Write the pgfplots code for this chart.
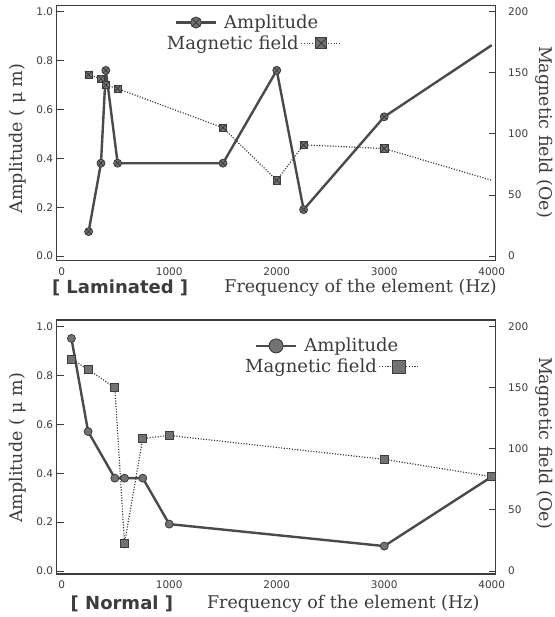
\documentclass[border=0pt]{standalone}
\usepackage{fontspec}
\setmainfont{DejaVu Serif}
\newfontfamily\sansf{DejaVu Sans}
\usepackage{pgfplots}
\pgfplotsset{compat=1.18}
\usetikzlibrary{plotmarks}
\definecolor{ink}{HTML}{3C3C3C}
\definecolor{linec}{HTML}{4A4A4A}
\definecolor{markf}{HTML}{727272}

\pgfdeclareplotmark{boxtimes*}{%
  \pgfpathrectangle{\pgfqpoint{-\pgfplotmarksize}{-\pgfplotmarksize}}{\pgfqpoint{2\pgfplotmarksize}{2\pgfplotmarksize}}%
  \pgfusepathqfillstroke
  \pgfpathmoveto{\pgfqpoint{-\pgfplotmarksize}{-\pgfplotmarksize}}%
  \pgfpathlineto{\pgfqpoint{\pgfplotmarksize}{\pgfplotmarksize}}%
  \pgfpathmoveto{\pgfqpoint{-\pgfplotmarksize}{\pgfplotmarksize}}%
  \pgfpathlineto{\pgfqpoint{\pgfplotmarksize}{-\pgfplotmarksize}}%
  \pgfusepathqstroke
}

\pgfplotsset{
  panel/.style={
    scale only axis, width=439pt,
    xmin=-47, xmax=4037,
    axis line style={ink, line width=1.1pt},
    tick style={ink, line width=0.9pt},
    tick align=inside, major tick length=7pt,
    /pgf/number format/assume math mode=true,
    tick label style={font=\sansf\fontsize{10.5}{12}\selectfont, text=ink},
    legend style={draw=none, fill=none, inner sep=0pt, text=ink,
      font=\fontsize{18}{20}\selectfont, nodes={inner sep=0pt}},
    legend image code/.code={\draw[mark repeat=2,mark phase=2,##1] plot coordinates {(0pt,0pt) (20pt,0pt) (40pt,0pt)};},
  },
  leftpanel/.style={panel,
    xtick={0,1000,2000,3000,4000}, xtick pos=bottom, ytick pos=left,
    xticklabel style={/pgf/number format/1000 sep={}, yshift=-3pt},
    xtick style={/pgfplots/major tick length=0pt},
    extra x ticks={0,4000}, extra x tick labels={},
    extra x tick style={/pgfplots/major tick length=7pt},
    ytick={0,0.2,0.4,0.6,0.8,1.0},
    yticklabel style={/pgf/number format/.cd, fixed, fixed zerofill, precision=1},
    legend style={column sep=7pt},
  },
  rightpanel/.style={panel,
    axis x line=none, axis y line*=right, ytick pos=right,
    ytick={0,50,100,150,200},
    yticklabel style={xshift=9pt},
    legend plot pos=right,
    legend style={column sep=2pt},
  },
  ampline/.style={linec, line width=2.4pt},
  magline/.style={ink, line width=1.2pt, dash pattern=on 1.1pt off 1.6pt},
}

\begin{document}
\begin{tikzpicture}
\path[use as bounding box] (0pt,0pt) rectangle (554pt,-617pt);

% ---------------- Top panel: Laminated ----------------
\begin{axis}[leftpanel, at={(56.7pt,-5.7pt)}, anchor=north west,
  height=255pt, ymin=-0.019, ymax=1.0246,
  legend style={at={(0.2686,0.934)}, anchor=west}]
\addplot[ampline, forget plot] coordinates {
 (250,0.10) (365,0.38) (410,0.76) (520,0.38) (1500,0.38) (2000,0.76) (2250,0.19) (3000,0.57) (4000,0.863)};
\addplot[only marks, mark=otimes*, mark size=4pt, mark options={fill=markf, draw=ink, line width=0.8pt}, forget plot] coordinates {
 (250,0.10) (365,0.38) (410,0.76) (520,0.38) (1500,0.38) (2000,0.76) (2250,0.19) (3000,0.57)};
\addlegendimage{ampline, mark=otimes*, mark size=5.5pt, mark options={fill=markf, draw=ink, line width=0.9pt}}
\addlegendentry{Amplitude}
\end{axis}

\begin{axis}[rightpanel, at={(56.7pt,-5.7pt)}, anchor=north west,
  height=255pt, ymin=-3.8, ymax=204.9,
  legend style={at={(0.650,0.853)}, anchor=east}]
\addplot[magline, forget plot] coordinates {
 (250,148.5) (365,145) (410,140) (520,137) (1500,105) (2000,62) (2250,91) (3000,88) (4000,62)};
\addplot[only marks, mark=boxtimes*, mark size=3.7pt, mark options={solid, fill=markf, draw=ink, line width=0.8pt}, forget plot] coordinates {
 (250,148.5) (365,145) (410,140) (520,137) (1500,105) (2000,62) (2250,91) (3000,88)};
\addlegendimage{magline, mark=boxtimes*, mark size=5.5pt, mark options={solid, fill=markf, draw=ink, line width=0.9pt}}
\addlegendentry{Magnetic field}
\end{axis}

% ---------------- Bottom panel: Normal ----------------
\begin{axis}[leftpanel, at={(56.7pt,-320pt)}, anchor=north west,
  height=254pt, ymin=-0.0123, ymax=1.0274,
  legend style={at={(0.451,0.898)}, anchor=west}]
\addplot[ampline, mark=*, mark size=4pt, mark options={fill=markf, draw=ink, line width=0.8pt}, forget plot] coordinates {
 (90,0.952) (245,0.571) (494,0.38) (584,0.38) (754,0.38) (1000,0.192) (3000,0.102) (4000,0.386)};
\addlegendimage{ampline, mark=*, mark size=7pt, mark options={fill=markf, draw=ink, line width=0.9pt}}
\addlegendentry{Amplitude}
\end{axis}

\begin{axis}[rightpanel, at={(56.7pt,-320pt)}, anchor=north west,
  height=254pt, ymin=-2.46, ymax=205.5,
  legend style={at={(0.828,0.817)}, anchor=east}]
\addplot[magline, mark=square*, mark size=4pt, mark options={solid, fill=markf, draw=ink, line width=0.8pt}, forget plot] coordinates {
 (90,173.5) (245,165) (494,150) (584,22.6) (754,108.5) (1000,111) (3000,91.4) (4000,77.2)};
\addlegendimage{magline, mark=square*, mark size=6.5pt, mark options={solid, fill=markf, draw=ink, line width=0.9pt}}
\addlegendentry{Magnetic field}
\end{axis}

% ---------------- Labels ----------------
\begin{scope}[every node/.style={text=ink, inner sep=0pt}]
\node[anchor=west, font=\sansf\bfseries\fontsize{18}{20}\selectfont] at (51.8pt,-288pt) {[ Laminated ]};
\node[font=\fontsize{17.5}{20}\selectfont] at (360.5pt,-288pt) {Frequency of the element (Hz)};
\node[anchor=west, font=\sansf\bfseries\fontsize{18}{20}\selectfont] at (70.5pt,-604pt) {[ Normal ]};
\node[font=\fontsize{17.5}{20}\selectfont] at (343.2pt,-604pt) {Frequency of the element (Hz)};
\node[rotate=90, font=\fontsize{17.5}{20}\selectfont] at (18pt,-138.5pt) {Amplitude ( μ m)};
\node[rotate=90, font=\fontsize{17.5}{20}\selectfont] at (18pt,-448pt) {Amplitude ( μ m)};
\node[rotate=-90, font=\fontsize{17.5}{20}\selectfont] at (544pt,-132pt) {Magnetic field (Oe)};
\node[rotate=-90, font=\fontsize{17.5}{20}\selectfont] at (544pt,-443pt) {Magnetic field (Oe)};
\end{scope}
\end{tikzpicture}
\end{document}
